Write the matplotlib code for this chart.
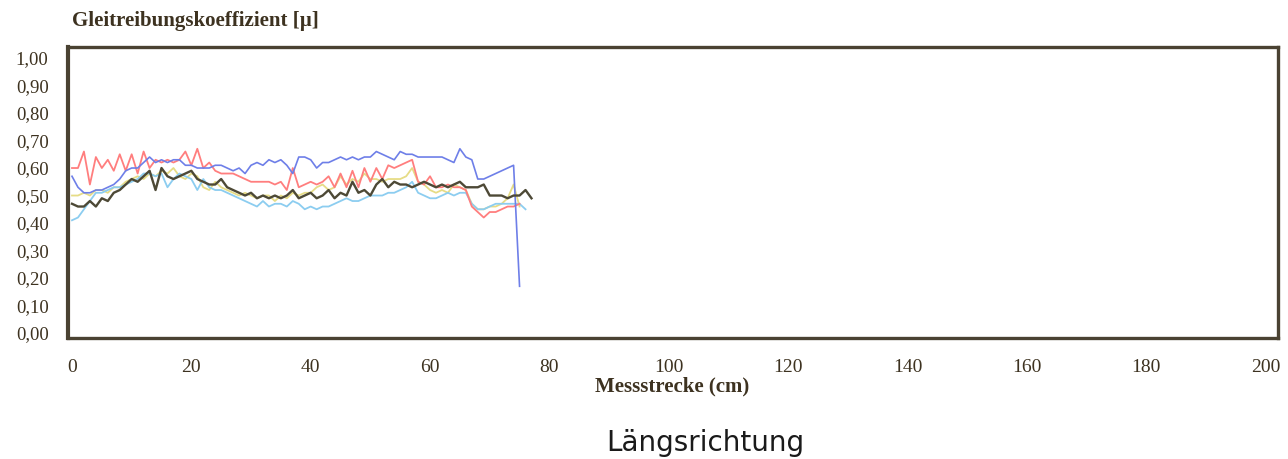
import matplotlib
matplotlib.use("Agg")
import matplotlib.pyplot as plt
from matplotlib.ticker import FuncFormatter

# ---- data ----
x_cm = list(range(0, 76))
x_dark = list(range(0, 78))
x_lightblue = list(range(0, 77))

blue = [0.57, 0.53, 0.51, 0.51, 0.52, 0.52, 0.53, 0.54, 0.56, 0.59,
        0.60, 0.60, 0.62, 0.64, 0.62, 0.63, 0.62, 0.63, 0.63, 0.61,
        0.61, 0.60, 0.60, 0.60, 0.61, 0.61, 0.60, 0.59, 0.60, 0.58,
        0.61, 0.62, 0.61, 0.63, 0.62, 0.63, 0.61, 0.58, 0.64, 0.64,
        0.63, 0.60, 0.62, 0.62, 0.63, 0.64, 0.63, 0.64, 0.63, 0.64,
        0.64, 0.66, 0.65, 0.64, 0.63, 0.66, 0.65, 0.65, 0.64, 0.64,
        0.64, 0.64, 0.64, 0.63, 0.62, 0.67, 0.64, 0.63, 0.56, 0.56,
        0.57, 0.58, 0.59, 0.60, 0.61, 0.17]

red = [0.60, 0.60, 0.66, 0.54, 0.64, 0.60, 0.63, 0.59, 0.65, 0.59,
       0.65, 0.58, 0.66, 0.60, 0.63, 0.62, 0.63, 0.62, 0.63, 0.66,
       0.61, 0.67, 0.60, 0.62, 0.59, 0.58, 0.58, 0.58, 0.57, 0.56,
       0.55, 0.55, 0.55, 0.55, 0.54, 0.55, 0.52, 0.60, 0.53, 0.54,
       0.55, 0.54, 0.55, 0.57, 0.53, 0.58, 0.53, 0.59, 0.53, 0.60,
       0.55, 0.60, 0.56, 0.61, 0.60, 0.61, 0.62, 0.63, 0.55, 0.54,
       0.57, 0.53, 0.53, 0.54, 0.53, 0.53, 0.52, 0.46, 0.44, 0.42,
       0.44, 0.44, 0.45, 0.46, 0.46, 0.47]

yellow = [0.50, 0.50, 0.51, 0.50, 0.52, 0.52, 0.51, 0.53, 0.53, 0.55,
          0.56, 0.57, 0.56, 0.58, 0.57, 0.59, 0.58, 0.60, 0.57, 0.56,
          0.58, 0.57, 0.53, 0.52, 0.55, 0.53, 0.52, 0.51, 0.50, 0.51,
          0.50, 0.49, 0.50, 0.50, 0.48, 0.50, 0.49, 0.51, 0.50, 0.51,
          0.51, 0.53, 0.54, 0.52, 0.53, 0.57, 0.54, 0.56, 0.55, 0.58,
          0.56, 0.56, 0.55, 0.56, 0.56, 0.56, 0.57, 0.60, 0.55, 0.54,
          0.52, 0.51, 0.52, 0.51, 0.54, 0.53, 0.52, 0.47, 0.45, 0.45,
          0.46, 0.46, 0.47, 0.49, 0.54, 0.46]

lightblue = [0.41, 0.42, 0.45, 0.48, 0.51, 0.51, 0.52, 0.53, 0.53, 0.54,
             0.55, 0.56, 0.58, 0.58, 0.57, 0.58, 0.53, 0.56, 0.58, 0.57,
             0.56, 0.52, 0.56, 0.53, 0.52, 0.52, 0.51, 0.50, 0.49, 0.48,
             0.47, 0.46, 0.48, 0.46, 0.47, 0.47, 0.46, 0.48, 0.47, 0.45,
             0.46, 0.45, 0.46, 0.46, 0.47, 0.48, 0.49, 0.48, 0.48, 0.49,
             0.50, 0.50, 0.50, 0.51, 0.51, 0.52, 0.53, 0.55, 0.51, 0.50,
             0.49, 0.49, 0.50, 0.51, 0.50, 0.51, 0.51, 0.47, 0.45, 0.45,
             0.46, 0.47, 0.47, 0.47, 0.47, 0.47, 0.45]

dark = [0.47, 0.46, 0.46, 0.48, 0.46, 0.49, 0.48, 0.51, 0.52, 0.54,
        0.56, 0.55, 0.57, 0.59, 0.52, 0.60, 0.57, 0.56, 0.57, 0.58,
        0.59, 0.56, 0.55, 0.54, 0.54, 0.56, 0.53, 0.52, 0.51, 0.50,
        0.51, 0.49, 0.50, 0.49, 0.50, 0.49, 0.50, 0.52, 0.49, 0.50,
        0.51, 0.49, 0.50, 0.52, 0.49, 0.51, 0.50, 0.55, 0.51, 0.52,
        0.50, 0.54, 0.56, 0.53, 0.55, 0.54, 0.54, 0.53, 0.54, 0.55,
        0.54, 0.53, 0.54, 0.53, 0.54, 0.55, 0.53, 0.53, 0.53, 0.54,
        0.50, 0.50, 0.50, 0.49, 0.50, 0.50, 0.52, 0.49]

x_ticks = [0, 20, 40, 60, 80, 100, 120, 140, 160, 180, 200]
y_ticks = [0.0, 0.1, 0.2, 0.3, 0.4, 0.5, 0.6, 0.7, 0.8, 0.9, 1.0]

title_text = "Gleitreibungskoeffizient [µ]"
xlabel_text = "Messstrecke (cm)"
caption_text = "Längsrichtung"

# ---- figure ----
fig = plt.figure(figsize=(12.88, 4.59), dpi=100)
ax = fig.add_axes([68 / 1288, 1 - 338 / 459, (1278 - 68) / 1288, (338 - 47) / 459])

txt_col = "#3d3220"
frame_col = "#4a4232"

ax.plot(x_cm, yellow, color="#e6dc86", lw=1.3, zorder=2)
ax.plot(x_lightblue, lightblue, color="#8ccdf0", lw=1.3, zorder=2)
ax.plot(x_cm, red, color="#ff7e7e", lw=1.3, zorder=3)
ax.plot(x_cm, blue, color="#6e7fe8", lw=1.2, zorder=3)
ax.plot(x_dark, dark, color="#4d4936", lw=1.7, zorder=4)

ax.set_xlim(-0.67, 202.1)
ax.set_ylim(-0.018, 1.04)
ax.set_xticks(x_ticks)
ax.set_yticks(y_ticks)
ax.yaxis.set_major_formatter(FuncFormatter(lambda v, p: f"{v:.2f}".replace(".", ",")))
ax.tick_params(axis="both", length=0, colors=txt_col)
ax.tick_params(axis="y", pad=14, labelsize=13.5)
ax.tick_params(axis="x", pad=15, labelsize=14)
for lab in ax.get_xticklabels() + ax.get_yticklabels():
    lab.set_family("Liberation Serif")

for s in ax.spines.values():
    s.set_color(frame_col)
    s.set_linewidth(2.4)
ax.spines["left"].set_linewidth(3.0)

fig.text(72 / 1288, 1 - 21 / 459, title_text, family="Liberation Serif",
         fontweight="bold", fontsize=15, color=txt_col, ha="left", va="center")
fig.text(672 / 1288, 1 - 386 / 459, xlabel_text, family="Liberation Serif",
         fontweight="bold", fontsize=15, color=txt_col, ha="center", va="center")
fig.text(705 / 1288, 1 - 443 / 459, caption_text, family="DejaVu Sans",
         fontsize=20, color="#1a1a1a", ha="center", va="center")

fig.savefig("out.png", dpi=100)
